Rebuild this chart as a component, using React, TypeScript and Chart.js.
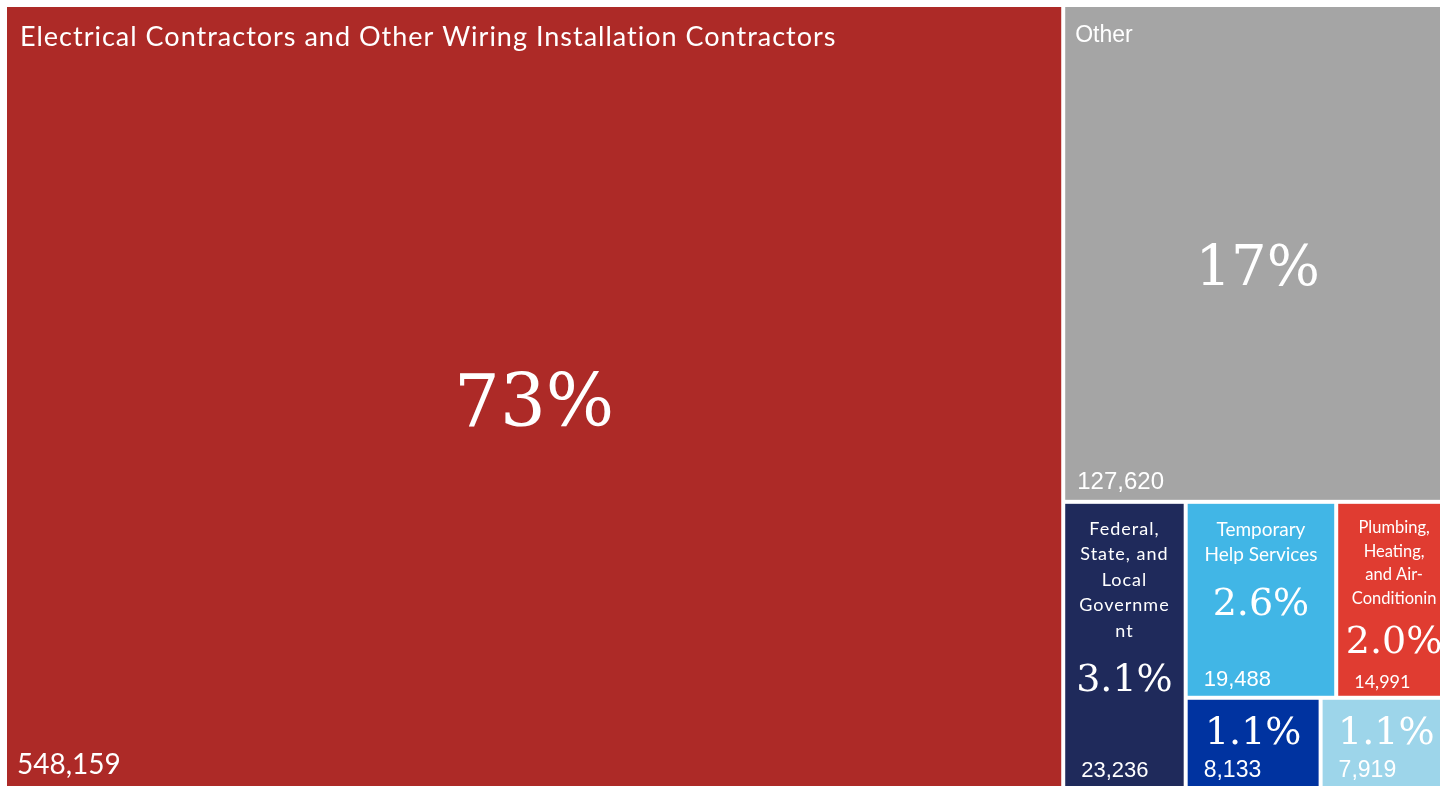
import { useEffect, useRef } from 'react';
import { Chart, registerables } from 'chart.js';

Chart.register(...registerables);

// ---------- data ----------
const categories = [
  'Electrical Contractors and Other Wiring Installation Contractors',
  'Other',
  'Federal, State, and Local Government',
  'Temporary Help Services',
  'Plumbing, Heating, and Air-Conditioning Contractors',
  '',
  '',
];
const values = [548159, 127620, 23236, 19488, 14991, 8133, 7919];

// ---------- styles ----------
const colors = ['#AD2A27', '#A5A5A5', '#1F2A5B', '#41B6E6', '#E03C31', '#0033A0', '#9DD5EA'];
const nameFontPx = [27, 23, 18, 19, 16.5, 16, 16];
const nameLineH = [36, 30, 25.5, 25.5, 23.5, 22, 22];
const nameSpacing = [1, 0, 1, 0, 0, 0, 0];
const nameFamily = ['Lato', '"Liberation Sans"', 'Lato', 'Lato', 'Lato', 'Lato', 'Lato'];
const pctFontPx = [72, 56, 38, 38, 38, 38, 38];
const valueFontPx = [28, 24, 22, 22, 18, 23, 23];
const valueFamily = ['Lato', '"Liberation Sans"', '"Liberation Sans"', '"Liberation Sans"', 'Lato', '"Liberation Sans"', '"Liberation Sans"'];
const pctFamily = '"DejaVu Serif", serif';
const GAP = 2;

// layout structure (slice directions only; sizes come from values)
type LNode = number | any[];
const layoutTree: LNode = ['h', 0, ['v', 1, ['h', 2, ['v', ['h', 3, 4], ['h', 5, 6]]]]];

type Cell = { x0: number; y0: number; x1: number; y1: number };

function sumNode(n: LNode): number {
  if (typeof n === 'number') return values[n];
  return n.slice(1).reduce((s: number, c: LNode) => s + sumNode(c), 0);
}

function layout(n: LNode, x0: number, y0: number, x1: number, y1: number, out: Cell[]) {
  if (typeof n === 'number') {
    out[n] = { x0, y0, x1, y1 };
    return;
  }
  const dir = n[0];
  const kids = n.slice(1);
  const tot = sumNode(n);
  let acc = 0;
  for (const k of kids) {
    const s = sumNode(k);
    const a = acc / tot;
    const b = (acc + s) / tot;
    if (dir === 'h') layout(k, x0 + (x1 - x0) * a, y0, x0 + (x1 - x0) * b, y1, out);
    else layout(k, x0, y0 + (y1 - y0) * a, x1, y0 + (y1 - y0) * b, out);
    acc += s;
  }
}

const total = values.reduce((a, b) => a + b, 0);
const cells: Cell[] = [];
layout(layoutTree, 0, 0, 1, 1, cells);

function pctLabel(v: number) {
  const p = (v / total) * 100;
  return p >= 10 ? `${Math.round(p)}%` : `${p.toFixed(1)}%`;
}

function wrapText(ctx: CanvasRenderingContext2D, text: string, maxW: number): string[] {
  const words: string[] = [];
  text.split(' ').forEach((w) => {
    w.split(/(?<=-)/).forEach((p) => words.push(p));
  });
  const lines: string[] = [];
  let cur = '';
  const breakWord = (w: string) => {
    if (ctx.measureText(w).width <= maxW) return [w];
    const pieces: string[] = [];
    let piece = '';
    for (const ch of w) {
      if (ctx.measureText(piece + ch).width > maxW && piece) {
        pieces.push(piece);
        piece = ch;
      } else piece += ch;
    }
    if (piece) pieces.push(piece);
    return pieces;
  };
  for (const w of words) {
    const joiner = cur === '' || cur.endsWith('-') ? '' : ' ';
    const cand = cur + joiner + w;
    if (ctx.measureText(cand).width <= maxW) {
      cur = cand;
    } else {
      if (cur) lines.push(cur);
      const pieces = breakWord(w);
      for (let j = 0; j < pieces.length - 1; j++) lines.push(pieces[j]);
      cur = pieces[pieces.length - 1];
    }
  }
  if (cur) lines.push(cur);
  return lines;
}

const treemapPlugin = {
  id: 'treemapCells',
  afterDatasetsDraw(chart: any) {
    const xs = chart.scales.x;
    const ys = chart.scales.y;
    const ctx: any = chart.ctx;
    cells.forEach((c, i) => {
      const L = xs.getPixelForValue(c.x0) + GAP;
      const R = xs.getPixelForValue(c.x1) - GAP;
      const T = ys.getPixelForValue(c.y0) + GAP;
      const B = ys.getPixelForValue(c.y1) - GAP;
      const w = R - L;
      const h = B - T;
      ctx.save();
      ctx.fillStyle = colors[i];
      ctx.fillRect(L, T, w, h);
      ctx.beginPath();
      ctx.rect(L, T, w, h);
      ctx.clip();
      ctx.fillStyle = '#FFFFFF';
      ctx.textBaseline = 'alphabetic';

      // name
      const nf = nameFontPx[i];
      ctx.font = `${nf}px ${nameFamily[i]}`;
      ctx.letterSpacing = `${nameSpacing[i]}px`;
      let nameBottom = T;
      let wrapped = false;
      const name = categories[i];
      if (name) {
        const padL = w > 600 ? 13 : 10;
        if (ctx.measureText(name).width <= w - 2 * padL) {
          ctx.textAlign = 'left';
          const base = T + 12 + nf;
          ctx.fillText(name, L + padL, base);
          nameBottom = base;
        } else {
          wrapped = true;
          const lh = nameLineH[i];
          let lines = wrapText(ctx, name, w - 24);
          const maxLines = Math.max(1, Math.floor((h * 0.5) / lh));
          lines = lines.slice(0, maxLines);
          ctx.textAlign = 'center';
          lines.forEach((ln, k) => {
            const base = T + 13 + nf + k * lh;
            ctx.fillText(ln, L + w / 2, base);
            nameBottom = base;
          });
        }
      }
      ctx.letterSpacing = '0px';

      // value
      const vf = valueFontPx[i];
      ctx.font = `${vf}px ${valueFamily[i]}`;
      ctx.textAlign = 'left';
      const vPadX = w > 600 ? 10 : w > 300 ? 12 : 16;
      const vBase = B - Math.round(vf * 0.45);
      ctx.fillText(values[i].toLocaleString('en-US'), L + vPadX, vBase);
      const vTop = vBase - vf * 0.72;

      // percent
      const pf = pctFontPx[i];
      ctx.font = `${pf}px ${pctFamily}`;
      ctx.textAlign = 'center';
      let mid = (nameBottom + vTop) / 2;
      if (wrapped) mid = Math.min(mid, nameBottom + 40);
      const shift = w > 300 && w < 600 ? 8 : 0;
      ctx.fillText(pctLabel(values[i]), L + w / 2, mid + shift + pf * 0.36);
      ctx.restore();
    });
  },
};

export default function App() {
  const ref = useRef<HTMLCanvasElement | null>(null);
  useEffect(() => {
    if (!ref.current) return;
    const chart = new Chart(ref.current, {
      type: 'scatter',
      data: {
        datasets: [
          {
            label: 'cells',
            data: cells.map((c) => ({ x: (c.x0 + c.x1) / 2, y: (c.y0 + c.y1) / 2 })),
            pointRadius: 0,
            pointHoverRadius: 0,
          },
        ],
      },
      options: {
        animation: false,
        responsive: true,
        maintainAspectRatio: false,
        layout: { padding: 0 },
        plugins: { legend: { display: false }, tooltip: { enabled: false } },
        scales: {
          x: { type: 'linear', min: 0, max: 1, display: false },
          y: { type: 'linear', min: 0, max: 1, reverse: true, display: false },
        },
      },
      plugins: [treemapPlugin],
    });
    return () => chart.destroy();
  }, []);
  return (
    <div style={{ position: 'fixed', inset: 0, overflow: 'hidden', background: '#fff' }}>
      <div style={{ position: 'absolute', left: 5, top: 5, width: 1447, height: 784 }}>
        <canvas ref={ref} />
      </div>
    </div>
  );
}
